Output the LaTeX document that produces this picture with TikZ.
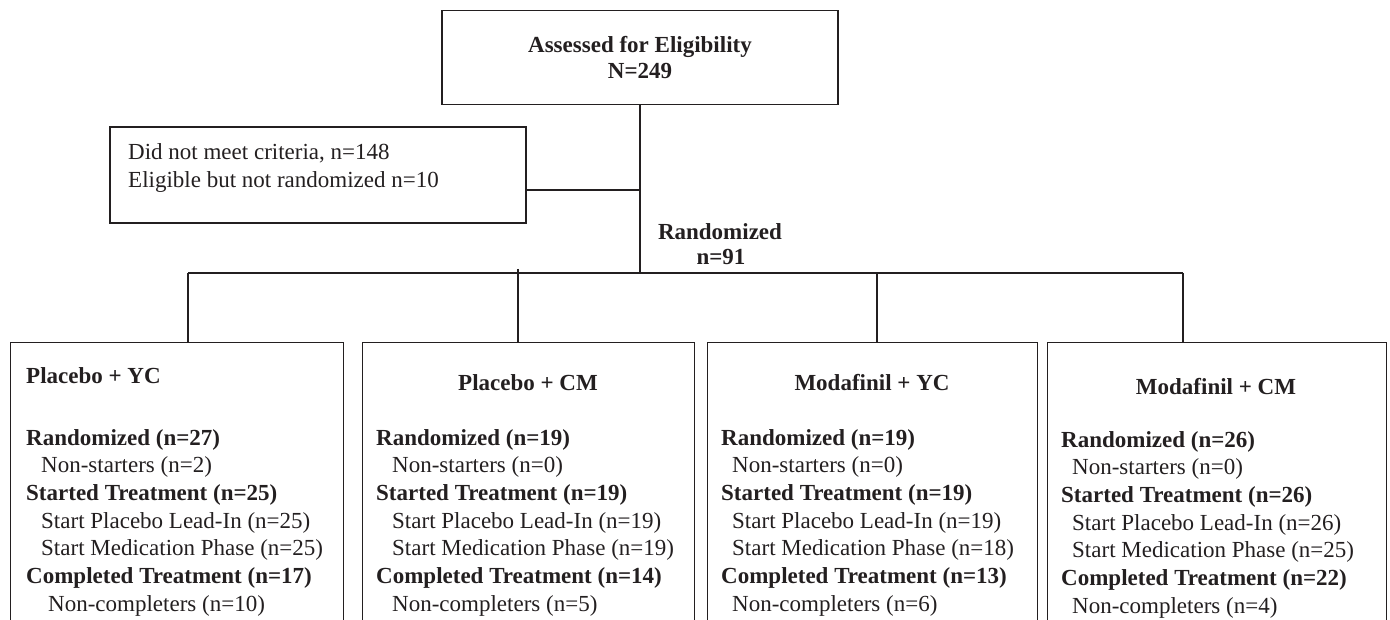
\documentclass[tikz,border=0pt]{standalone}
\usepackage{fontspec}
\setmainfont{Liberation Serif}
\usetikzlibrary{calc}
\definecolor{ink}{HTML}{231F20}
\begin{document}
\begin{tikzpicture}[x=1pt,y=-1pt,
  box/.style={draw=ink, line width=1.4pt, rectangle, inner sep=0pt},
  conn/.style={draw=ink, line width=1.4pt},
  txt/.style={font=\fontsize{23}{27.7}\selectfont, text=ink, inner sep=0pt, anchor=base west},
  btxt/.style={txt, font=\fontsize{23}{27.7}\selectfont\bfseries},
  head/.style={btxt, anchor=base}]
\useasboundingbox (0,0) rectangle (1390,620);
\clip (0,0) rectangle (1390,620);
% top box
\node[box, minimum width=396pt, minimum height=94pt, align=center,
      font=\fontsize{23}{26}\selectfont\bfseries, text=ink] (assess) at (640,57.5)
      {Assessed for Eligibility\\N=249};
% exclusion box
\node[box, minimum width=416pt, minimum height=96pt] (excl) at (318,175) {};
\node[txt] (excla) at (128,160) {Did not meet criteria, n=148};
\node[txt] (exclb) at (128,188) {Eligible but not randomized n=10};
% randomized label
\node[head] (randa) at (720,240) {Randomized};
\node[head] (randb) at (721,265) {n=91};
% coordinates on the connectors
\coordinate (E) at (640,190);
\coordinate (J) at (640,273);
\coordinate (L1) at (188,273);
\coordinate (L2) at (518,273);
\coordinate (L3) at (877,273);
\coordinate (L4) at (1183,273);
% arm boxes
\node[box, anchor=north west, minimum width=333pt, minimum height=300pt] (arm1) at (10,342) {};
\node[box, anchor=north west, minimum width=332pt, minimum height=300pt] (arm2) at (362,342) {};
\node[box, anchor=north west, minimum width=330pt, minimum height=300pt] (arm3) at (707,342) {};
\node[box, anchor=north west, minimum width=339pt, minimum height=300pt] (arm4) at (1047,342) {};
% connectors
\draw[conn] (assess.south) -- (J);
\draw[conn] (excl.east |- E) -- (E);
\draw[conn] (L1) -- (L4);
\draw[conn] (L1) -- (L1 |- arm1.north);
\draw[conn] ($(L2)+(0,-4)$) -- (L2 |- arm2.north);
\draw[conn] (L3) -- (L3 |- arm3.north);
\draw[conn] (L4) -- (L4 |- arm4.north);
% arm 1
\node[btxt] (a1h) at (26,384) {Placebo + YC};
\node[btxt] (a1r) at (26,445) {Randomized (n=27)};
\node[txt]  (a1n) at (41,472.7) {Non-starters (n=2)};
\node[btxt] (a1s) at (26,500.4) {Started Treatment (n=25)};
\node[txt]  (a1p) at (41,528.1) {Start Placebo Lead-In (n=25)};
\node[txt]  (a1m) at (41,555.8) {Start Medication Phase (n=25)};
\node[btxt] (a1c) at (26,583.5) {Completed Treatment (n=17)};
\node[txt]  (a1x) at (48,611.2) {Non-completers (n=10)};
% arm 2
\node[head] (a2h) at (528,390) {Placebo + CM};
\node[btxt] (a2r) at (376,445) {Randomized (n=19)};
\node[txt]  (a2n) at (392,472.7) {Non-starters (n=0)};
\node[btxt] (a2s) at (376,500.4) {Started Treatment (n=19)};
\node[txt]  (a2p) at (392,528.1) {Start Placebo Lead-In (n=19)};
\node[txt]  (a2m) at (392,555.8) {Start Medication Phase (n=19)};
\node[btxt] (a2c) at (376,583.5) {Completed Treatment (n=14)};
\node[txt]  (a2x) at (392,611.2) {Non-completers (n=5)};
% arm 3
\node[head] (a3h) at (872,390) {Modafinil + YC};
\node[btxt] (a3r) at (721,445) {Randomized (n=19)};
\node[txt]  (a3n) at (732,472.7) {Non-starters (n=0)};
\node[btxt] (a3s) at (721,500.4) {Started Treatment (n=19)};
\node[txt]  (a3p) at (732,528.1) {Start Placebo Lead-In (n=19)};
\node[txt]  (a3m) at (732,555.8) {Start Medication Phase (n=18)};
\node[btxt] (a3c) at (721,583.5) {Completed Treatment (n=13)};
\node[txt]  (a3x) at (732,611.2) {Non-completers (n=6)};
% arm 4
\node[head] (a4h) at (1216,394) {Modafinil + CM};
\node[btxt] (a4r) at (1061,447) {Randomized (n=26)};
\node[txt]  (a4n) at (1072,474.7) {Non-starters (n=0)};
\node[btxt] (a4s) at (1061,502.4) {Started Treatment (n=26)};
\node[txt]  (a4p) at (1072,530.1) {Start Placebo Lead-In (n=26)};
\node[txt]  (a4m) at (1072,557.8) {Start Medication Phase (n=25)};
\node[btxt] (a4c) at (1061,585.5) {Completed Treatment (n=22)};
\node[txt]  (a4x) at (1072,613.2) {Non-completers (n=4)};
\end{tikzpicture}
\end{document}
